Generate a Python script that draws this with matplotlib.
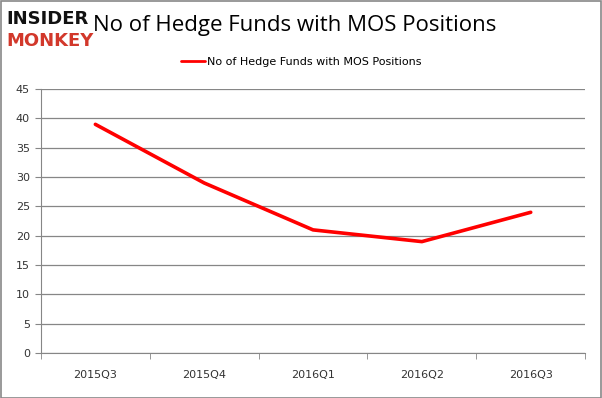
import matplotlib
matplotlib.use("Agg")
import matplotlib.pyplot as plt
from matplotlib.patches import Rectangle

# data
quarters = ["2015Q3", "2015Q4", "2016Q1", "2016Q2", "2016Q3"]
num_funds = [39, 29, 21, 19, 24]
series_name = "No of Hedge Funds with MOS Positions"

fig = plt.figure(figsize=(6.02, 3.98), dpi=100)
ax = fig.add_axes([0.068, 0.113, 0.904, 0.663])

x = range(len(quarters))
ax.plot(x, num_funds, color="#ff0000", linewidth=2.6, solid_capstyle="round",
        label=series_name)

ax.set_xlim(-0.5, len(quarters) - 0.5)
ax.set_ylim(0, 45)
ax.set_yticks(range(0, 46, 5))
ax.set_xticks(list(x))
ax.set_xticklabels(quarters)
ax.set_xticks([i + 0.5 for i in range(-1, len(quarters))], minor=True)

ax.grid(axis="y", color="#868686", linewidth=0.9)
ax.set_axisbelow(True)
for s in ["top", "right"]:
    ax.spines[s].set_visible(False)
for s in ["left", "bottom"]:
    ax.spines[s].set_color("#868686")
ax.tick_params(axis="x", which="major", length=0, pad=12, labelsize=8, colors="#333333")
ax.tick_params(axis="x", which="minor", length=4, color="#868686", direction="out")
ax.tick_params(axis="y", length=4, color="#868686", labelsize=8, colors="#333333", pad=4)

# title and logo
fig.text(0.155, 0.935, "No of Hedge Funds with MOS Positions", fontsize=16,
         family="Open Sans", va="center", ha="left")
fig.text(0.010, 0.952, "INSIDER", fontsize=13, fontweight="heavy", color="#111111",
         va="center", ha="left")
fig.text(0.010, 0.898, "MONKEY", fontsize=13, fontweight="heavy", color="#d2382b",
         va="center", ha="left")

leg = fig.legend(loc="center", bbox_to_anchor=(0.5, 0.845), frameon=False,
                 fontsize=8, handlelength=2.2, handletextpad=0.1)
for line in leg.get_lines():
    line.set_linewidth(2)

# outer border
fig.patches.append(Rectangle((0.001, 0.001), 0.997, 0.997, transform=fig.transFigure,
                             fill=False, edgecolor="#888888", linewidth=1.2))

fig.savefig("out.png", dpi=100)
